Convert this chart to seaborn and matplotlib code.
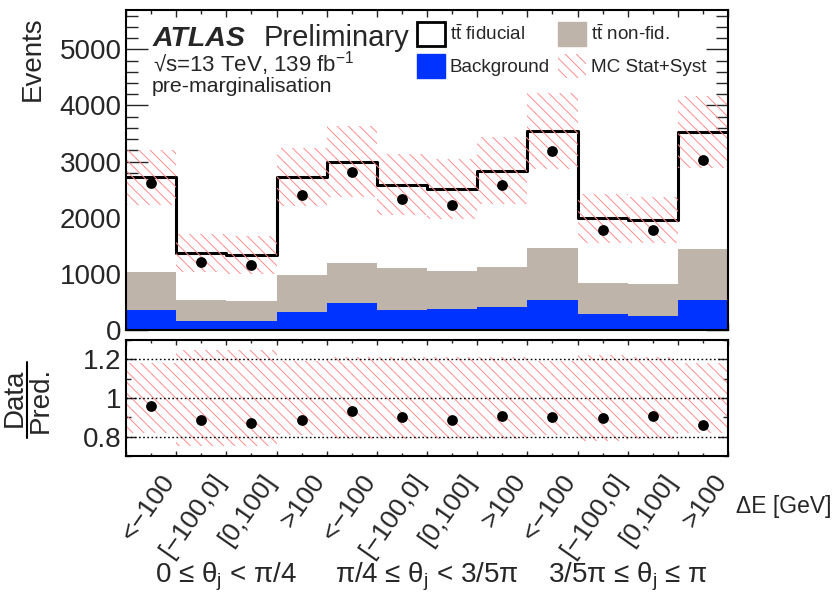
import numpy as np
import pandas as pd
import matplotlib
matplotlib.use("Agg")
import matplotlib.pyplot as plt
import matplotlib.transforms as mtransforms
from matplotlib.patches import Patch
from matplotlib.ticker import MultipleLocator, FixedLocator, NullFormatter
import seaborn as sns

# ---- yields per bin (12 bins: 3 theta_j regions x 4 Delta E bins) ----
bin_labels = ["<−100", "[−100,0]", "[0,100]", ">100"] * 3
group_labels = [
    "0 ≤ $\\mathrm{θ_j}$ < π/4",
    "π/4 ≤ $\\mathrm{θ_j}$ < 3/5π",
    "3/5π ≤ $\\mathrm{θ_j}$ ≤ π",
]
background = np.array([353, 165, 153, 318, 482, 353, 371, 412, 529, 282, 247, 541])
nonfid = np.array([688, 376, 365, 664, 706, 747, 688, 717, 930, 559, 577, 894])
fiducial = np.array([1677, 830, 823, 1736, 1812, 1488, 1453, 1712, 2082, 1147, 1129, 2094])
data = np.array([2612, 1218, 1165, 2412, 2806, 2329, 2224, 2582, 3188, 1782, 1776, 3029])
rel_unc = np.array([0.18, 0.25, 0.25, 0.19, 0.21, 0.21, 0.21, 0.21, 0.19, 0.22, 0.21, 0.18])

BLUE = "#0033ff"
GRAY = "#beb4aa"
HATCH = "#ff8c8c"

sns.set_style("ticks")
plt.rcParams["font.family"] = ["Liberation Sans", "DejaVu Sans"]
plt.rcParams["mathtext.fontset"] = "custom"
plt.rcParams["mathtext.rm"] = "Liberation Sans"
plt.rcParams["mathtext.it"] = "Liberation Sans:italic"
plt.rcParams["mathtext.bf"] = "Liberation Sans:bold"
plt.rcParams["hatch.linewidth"] = 0.7
plt.rcParams["hatch.color"] = HATCH

W, H = 835, 596
fig = plt.figure(figsize=(W / 100, H / 100), dpi=100)


def box(l, t, r, b):
    return [l / W, 1 - b / H, (r - l) / W, (b - t) / H]


ax = fig.add_axes(box(126, 10, 728, 330))
rax = fig.add_axes(box(126, 340, 728, 456))

edges = np.arange(13)
bin_edges = [float(e) for e in edges]
centers = edges[:-1] + 0.5
total = fiducial + nonfid + background
ratio = data / total

# ---- stacked prediction ----
df = pd.DataFrame({
    "x": np.tile(centers, 3),
    "events": np.concatenate([fiducial, nonfid, background]).astype(float),
    "component": ["fid"] * 12 + ["nonfid"] * 12 + ["bkg"] * 12,
})
sns.histplot(data=df, x="x", weights="events", hue="component",
             hue_order=["fid", "nonfid", "bkg"], multiple="stack", bins=bin_edges,
             palette={"fid": "white", "nonfid": GRAY, "bkg": BLUE},
             element="step", linewidth=0, alpha=1, legend=False, ax=ax)
tot_df = pd.DataFrame({"x": centers, "events": total.astype(float)})
sns.histplot(data=tot_df, x="x", weights="events", bins=bin_edges, element="step", fill=False,
             color="black", linewidth=2.2, ax=ax)

# MC stat+syst band
lo = total * (1 - rel_unc)
hi = total * (1 + rel_unc)
ax.fill_between(edges, np.append(lo, lo[-1]), np.append(hi, hi[-1]), step="post",
                facecolor="none", edgecolor=HATCH, hatch="\\\\\\", linewidth=0, zorder=3)

sns.scatterplot(x=centers, y=data, color="black", s=60, linewidth=0, ax=ax, zorder=5)

ax.set_xlim(0, 12)
ax.set_ylim(0, 5700)
ax.set_xlabel("")
ax.set_ylabel("")
ax.yaxis.set_major_locator(MultipleLocator(1000))
ax.yaxis.set_minor_locator(MultipleLocator(200))
ax.xaxis.set_major_locator(FixedLocator(edges))
ax.xaxis.set_minor_locator(FixedLocator(centers))
ax.xaxis.set_major_formatter(NullFormatter())
ax.tick_params(axis="y", which="both", direction="in", left=True, right=True, labelsize=20, pad=3)
ax.tick_params(axis="y", which="major", length=16, width=1)
ax.tick_params(axis="y", which="minor", length=8.5, width=1)
ax.tick_params(axis="x", which="both", direction="in", top=True, bottom=True, labelbottom=False)
ax.tick_params(axis="x", which="major", length=5, width=1)
ax.tick_params(axis="x", which="minor", length=3, width=1)

# ---- ratio panel ----
rax.fill_between(edges, np.append(1 - rel_unc, 1 - rel_unc[-1]),
                 np.append(1 + rel_unc, 1 + rel_unc[-1]), step="post",
                 facecolor="none", edgecolor=HATCH, hatch="\\\\\\", linewidth=0, zorder=1)
for yv in (0.8, 1.0, 1.2):
    rax.axhline(yv, color="black", lw=1, ls=(0, (1.2, 1.8)), zorder=2)
sns.scatterplot(x=centers, y=ratio, color="black", s=60, linewidth=0, ax=rax, zorder=5)
rax.set_xlim(0, 12)
rax.set_ylim(0.7, 1.3)
rax.set_xlabel("")
rax.set_ylabel("")
rax.set_yticks([0.8, 1.0, 1.2], ["0.8", "1", "1.2"])
rax.yaxis.set_minor_locator(MultipleLocator(0.1))
rax.xaxis.set_major_locator(FixedLocator(edges))
rax.xaxis.set_minor_locator(FixedLocator(centers))
rax.xaxis.set_major_formatter(NullFormatter())
rax.tick_params(axis="y", which="both", direction="in", left=True, right=True, labelsize=20, pad=3)
rax.tick_params(axis="y", which="major", length=7, width=1)
rax.tick_params(axis="y", which="minor", length=3.6, width=1)
rax.tick_params(axis="x", which="both", direction="in", top=True, bottom=True, labelbottom=False)
rax.tick_params(axis="x", which="major", length=3.5, width=1)
rax.tick_params(axis="x", which="minor", length=2.2, width=1)

for a in (ax, rax):
    for s in a.spines.values():
        s.set_linewidth(1.5)
        s.set_color("black")
        s.set_zorder(10)

# rotated bin labels
lab_tr = mtransforms.blended_transform_factory(rax.transData, rax.transAxes) + \
    mtransforms.ScaledTranslation(0.09, -0.14, fig.dpi_scale_trans)
for c, lab in zip(centers, bin_labels):
    rax.text(c, 0, lab, transform=lab_tr, rotation=55, rotation_mode="anchor",
             ha="right", va="top", fontsize=19)

grp_tr = mtransforms.blended_transform_factory(rax.transData, fig.transFigure)
for k, lab in enumerate(group_labels):
    rax.text(4 * k + 2, 1 - 577 / H, lab, transform=grp_tr, ha="center", va="center", fontsize=20)

fig.text(832 / W, 1 - 507 / H, "ΔE [GeV]", ha="right", va="center", fontsize=16.5)

# axis titles
fig.text(33 / W, 1 - 16 / H, "Events", rotation=90, ha="center", va="top", fontsize=20)
fig.text(15 / W, 1 - 398 / H, "Data", rotation=90, ha="center", va="center", fontsize=20)
fig.text(41 / W, 1 - 400 / H, "Pred.", rotation=90, ha="center", va="center", fontsize=20)
fig.add_artist(plt.Line2D([27 / W, 27 / W], [1 - 362 / H, 1 - 438 / H],
                          transform=fig.transFigure, color="black", lw=1.5))

# ATLAS label
fig.text(153 / W, 1 - 46 / H, "ATLAS", fontsize=20.5, weight="bold", style="italic", va="baseline")
fig.text(264 / W, 1 - 46 / H, "Preliminary", fontsize=21, va="baseline")
fig.text(153 / W, 1 - 72 / H, "√s=13 TeV, 139 fb$^{-1}$", fontsize=16, va="baseline")
fig.text(152 / W, 1 - 92 / H, "pre-marginalisation", fontsize=15.3, va="baseline")

# legend
handles = [
    Patch(facecolor="white", edgecolor="black", linewidth=2),
    Patch(facecolor=BLUE, edgecolor=BLUE),
    Patch(facecolor=GRAY, edgecolor=GRAY),
    Patch(facecolor="none", edgecolor=HATCH, hatch="\\\\\\", linewidth=0),
]
labels = ["$\\mathrm{t\\bar{t}}$ fiducial", "Background",
          "$\\mathrm{t\\bar{t}}$ non-fid.", "MC Stat+Syst"]
ax.legend(handles, labels, ncol=2, loc="upper left",
          bbox_to_anchor=(417 / W, 1 - 22 / H), bbox_transform=fig.transFigure,
          frameon=False, fontsize=13.6, handlelength=1.48, handleheight=1.55,
          handletextpad=0.25, columnspacing=0.45, labelspacing=0.45,
          borderpad=0, borderaxespad=0)

fig.savefig("out.png", dpi=100)
